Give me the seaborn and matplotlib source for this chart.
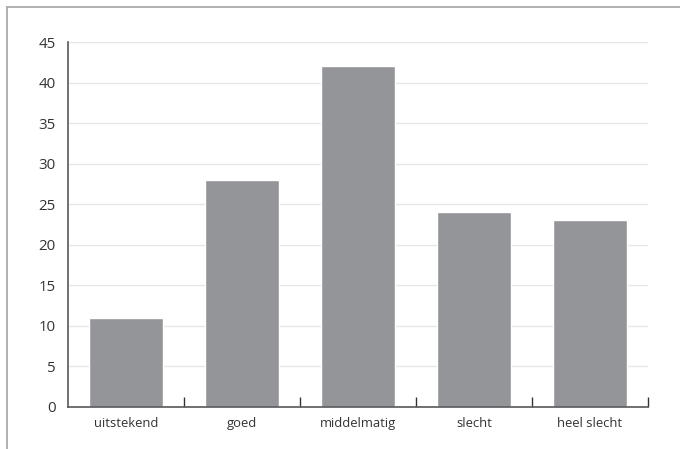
import numpy as np
import pandas as pd
import matplotlib
matplotlib.use("Agg")
import matplotlib.pyplot as plt
import seaborn as sns
from matplotlib.lines import Line2D

# Data
categories = ["uitstekend", "goed", "middelmatig", "slecht", "heel slecht"]
values = [11, 28, 42, 24, 23]
y_ticks = [0, 5, 10, 15, 20, 25, 30, 35, 40, 45]

sns.set_style("whitegrid")
plt.rcParams['font.family'] = ['Open Sans', 'DejaVu Sans']

df = pd.DataFrame({"oordeel": categories, "aantal": values})

fig = plt.figure(figsize=(6.8, 4.49), dpi=100)
ax = fig.add_axes([68 / 680, 1 - 407 / 449, 580 / 680, 365 / 449])

sns.barplot(data=df, x="oordeel", y="aantal", color="#939598", width=0.63,
            saturation=1, ax=ax, zorder=2)

ax.set_xlim(-0.5, len(categories) - 0.5)
ax.set_ylim(0, 45)
ax.set_yticks(y_ticks)
ax.set_xlabel("")
ax.set_ylabel("")

# grid and spines
ax.grid(axis="y", color="#e6e6e6", linewidth=1, zorder=0)
ax.grid(axis="x", visible=False)
for side in ["top", "right"]:
    ax.spines[side].set_visible(False)
for side in ["left", "bottom"]:
    ax.spines[side].set_color("#58595b")
    ax.spines[side].set_linewidth(1.2)

ax.tick_params(axis="y", length=0, pad=9, labelsize=10.8, labelcolor="#333333")
ax.tick_params(axis="x", which="major", length=0, pad=7, labelsize=9.4, labelcolor="#333333")
# tick marks between categories, pointing up
ax.set_xticks(np.arange(0.5, len(categories), 1), minor=True)
ax.tick_params(axis="x", which="minor", bottom=True, direction="in", length=7, width=1,
               color="#333333")

# outer frame (top and left only)
fig.add_artist(Line2D([6.5 / 680, 6.5 / 680], [0, 1 - 6.5 / 449], transform=fig.transFigure,
                      color="#aaaaaa", linewidth=1.3))
fig.add_artist(Line2D([6.5 / 680, 1], [1 - 6.5 / 449, 1 - 6.5 / 449], transform=fig.transFigure,
                      color="#aaaaaa", linewidth=1.3))

fig.savefig("out.png", dpi=100)
